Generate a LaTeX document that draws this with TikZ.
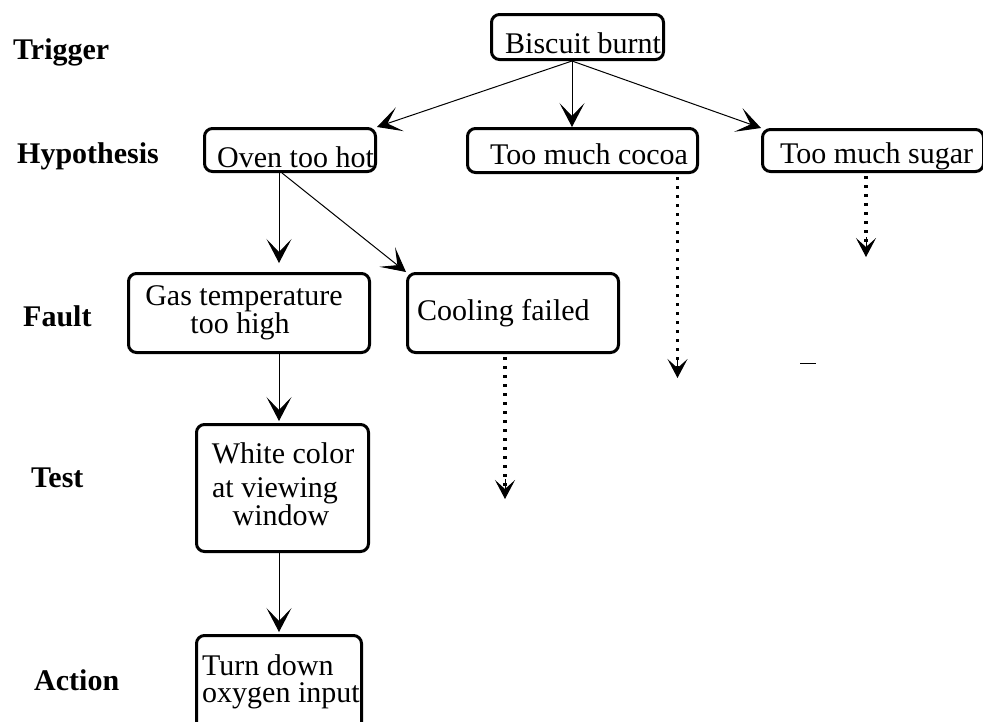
\documentclass[tikz,border=0pt]{standalone}
\usepackage{fontspec}
\setmainfont{Liberation Serif}
\usetikzlibrary{arrows.meta,calc}

\tikzset{
  box/.style={draw, line width=3pt, rounded corners=8pt, rectangle, inner sep=0pt},
  txt/.style={font=\fontsize{30}{30}\selectfont, inner sep=0pt, anchor=base west},
  ctxt/.style={txt, anchor=base},
  stage/.style={txt, font=\fontsize{30}{30}\selectfont\bfseries},
  arr/.style={line width=1pt, -{Stealth[length=24pt,width=25pt,inset=13pt]}},
  dotline/.style={line width=3.5pt, dash pattern=on 3pt off 6pt},
  dottip/.style={line width=1pt, -{Stealth[length=19pt,width=20pt,inset=9pt]}},
}

\begin{document}
\begin{tikzpicture}[x=1pt,y=-1pt]
  \useasboundingbox (0,0) rectangle (983,721);

  % stage labels
  \node[stage] (lTrigger) at (13,59)  {Trigger};
  \node[stage] (lHyp)     at (17,163) {Hypothesis};
  \node[stage] (lFault)   at (23,326) {Fault};
  \node[stage] (lTest)    at (31,487) {Test};
  \node[stage] (lAction)  at (34,690) {Action};

  % boxes
  \node[box, minimum width=172pt, minimum height=45pt] (burnt) at (577.5,37) {};
  \node[box, minimum width=171pt, minimum height=43pt] (oven)  at (290,150) {};
  \node[box, minimum width=230pt, minimum height=44pt] (cocoa) at (582.5,150.5) {};
  \node[box, minimum width=221pt, minimum height=42pt] (sugar) at (873,150.5) {};
  \node[box, minimum width=241pt, minimum height=79pt] (gas)   at (249,313) {};
  \node[box, minimum width=211pt, minimum height=79pt] (cool)  at (513,313) {};
  \node[box, minimum width=172pt, minimum height=127pt] (white) at (282.5,488) {};
  \node[box, minimum width=165pt, minimum height=98pt] (turn)  at (279,684.5) {};

  % box texts
  \node[txt]  (burntT)  at (505,53)  {Biscuit burnt};
  \node[txt]  (ovenT)   at (217,167) {Oven too hot};
  \node[txt]  (cocoaT)  at (490,164) {Too much cocoa};
  \node[txt]  (sugarT)  at (780,163) {Too much sugar};
  \node[ctxt] (gasT1)   at (244,305) {Gas temperature};
  \node[ctxt] (gasT2)   at (240,333) {too high};
  \node[txt]  (coolT)   at (417,320) {Cooling failed};
  \node[ctxt] (whiteT1) at (283,463) {White color};
  \node[ctxt] (whiteT2) at (275,497) {at viewing};
  \node[ctxt] (whiteT3) at (281,525) {window};
  \node[txt]  (turnT1)  at (202,675) {Turn down};
  \node[txt]  (turnT2)  at (202,702) {oxygen input};

  % solid connectors
  \coordinate (fork) at ($(burnt.south)+(-5.5,0)$);
  \draw[arr] (fork) -- (oven.north east);
  \draw[arr] (fork) -- (fork |- cocoa.north);
  \draw[arr] (fork) -- (sugar.north west);
  \draw[arr] (oven.south -| turn.north) -- ($(gas.north -| turn.north)+(0,-9)$);
  \draw[arr] ($(oven.south)+(-8,0)$) -- (cool.north west);
  \draw[arr] (gas.south -| turn.north) -- ($(white.north -| turn.north)+(0,-2)$);
  \draw[arr] (white.south -| turn.north) -- ($(turn.north)+(0,-2)$);

  % dotted connectors with loose ends
  \coordinate (coolEnd)  at ($(cool.south)+(-8,145)$);
  \coordinate (cocoaEnd) at ($(cocoa.south east)+(-21.5,204)$);
  \coordinate (sugarEnd) at ($(sugar.south)+(-7,84)$);
  \draw[dotline] ($(cool.south)+(-8,3)$) -- ($(coolEnd)+(0,-8)$);
  \draw[dotline] ($(cocoa.south east)+(-21.5,3)$) -- ($(cocoaEnd)+(0,-8)$);
  \draw[dotline] ($(sugar.south)+(-7,3)$) -- ($(sugarEnd)+(0,-8)$);
  \draw[dottip] ($(coolEnd)+(0,-20)$) -- (coolEnd);
  \draw[dottip] ($(cocoaEnd)+(0,-20)$) -- (cocoaEnd);
  \draw[dottip] ($(sugarEnd)+(0,-20)$) -- (sugarEnd);

  % small stray dash
  \draw[line width=1pt] (800,363) -- (816,363);
\end{tikzpicture}
\end{document}
